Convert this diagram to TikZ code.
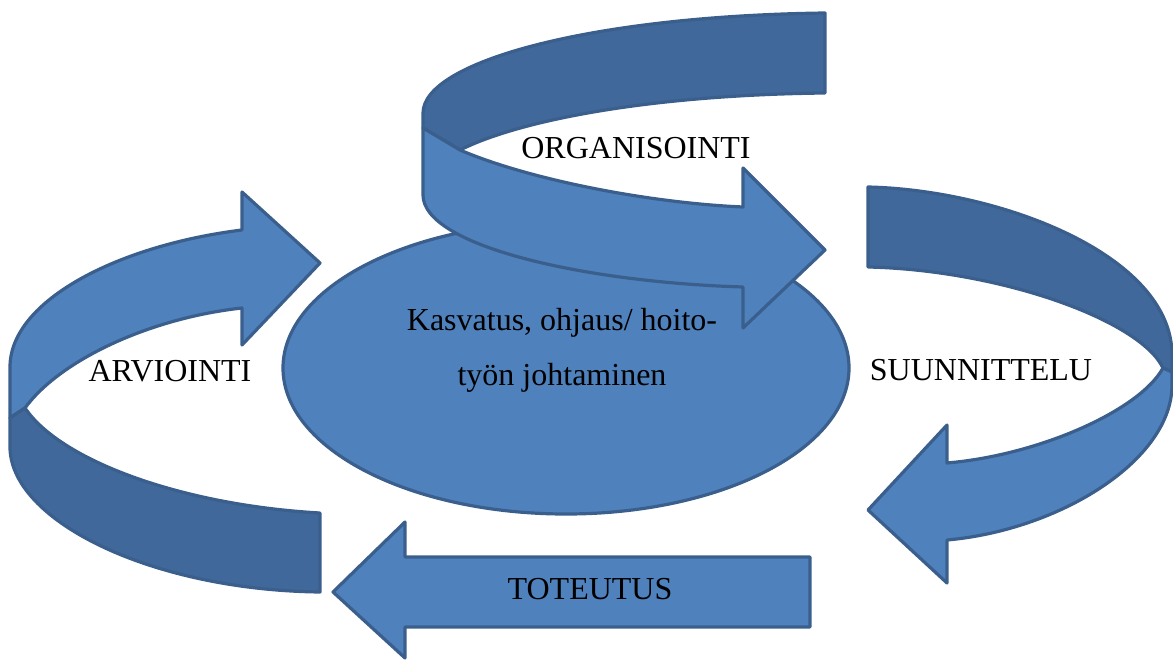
\documentclass[tikz,border=0pt]{standalone}
\usepackage{fontspec}
\setmainfont{Liberation Serif}
\definecolor{lightblue}{HTML}{4F81BD}
\definecolor{darkblue}{HTML}{41689A}
\definecolor{edgeblue}{HTML}{3A5F8D}
\begin{document}
\begin{tikzpicture}[x=1pt,y=-1pt,
  lightpart/.style={fill=lightblue,draw=edgeblue,line width=3.2pt,line join=round},
  darkpart/.style={fill=darkblue,draw=edgeblue,line width=3.2pt,line join=round},
  lbl/.style={anchor=base,inner sep=0pt,font=\fontsize{32}{40}\selectfont}]
\useasboundingbox (0,0) rectangle (1173,661);
% central ellipse
\draw[lightpart] (566,368) ellipse [x radius=283, y radius=146];
\node[lbl] (c1) at (562,330) {Kasvatus, ohjaus/ hoito-};
\node[lbl] (c2) at (562,385) {työn johtaminen};
% top arrow (ORGANISOINTI)
\draw[darkpart] (825,13) .. controls (590,16) and (423,62) .. (423,113) -- (423,128) -- (460,150)
  .. controls (520,120) and (650,95) .. (825,93) -- cycle;
\draw[lightpart] (423,128) -- (460,150) .. controls (530,180) and (650,203) .. (743,207)
  -- (743,168) -- (825,250) -- (743,328) -- (743,287)
  .. controls (580,282) and (423,245) .. (423,195) -- cycle;
% left arrow (ARVIOINTI)
\draw[lightpart] (242,230) -- (242,192) -- (320,263) -- (242,345) -- (242,308)
  .. controls (150,318) and (60,360) .. (25,408) -- (10,418) -- (10,367)
  .. controls (10,300) and (120,245) .. (242,230) -- cycle;
\draw[darkpart] (10,418) -- (25,408) .. controls (60,460) and (180,505) .. (320,513)
  -- (320,592) .. controls (150,590) and (10,520) .. (10,447) -- cycle;
% right arrow (SUUNNITTELU)
\draw[darkpart] (868,187) .. controls (1000,190) and (1172,255) .. (1172,355) -- (1172,372)
  -- (1163,368) .. controls (1140,320) and (1000,270) .. (868,267) -- cycle;
\draw[lightpart] (1163,368) .. controls (1140,410) and (1040,455) .. (947,463)
  -- (947,425) -- (868,510) -- (947,583) -- (947,540)
  .. controls (1060,530) and (1172,460) .. (1172,385) -- (1172,372) -- cycle;
% bottom arrow (TOTEUTUS)
\draw[lightpart] (810,557) -- (405,557) -- (405,522) -- (333,592) -- (405,658)
  -- (405,627) -- (810,627) -- cycle;
% labels
\node[lbl] (org) at (636,158) {ORGANISOINTI};
\node[lbl] (arv) at (170,381) {ARVIOINTI};
\node[lbl] (suu) at (981,380) {SUUNNITTELU};
\node[lbl] (tot) at (590,599) {TOTEUTUS};
\end{tikzpicture}
\end{document}
